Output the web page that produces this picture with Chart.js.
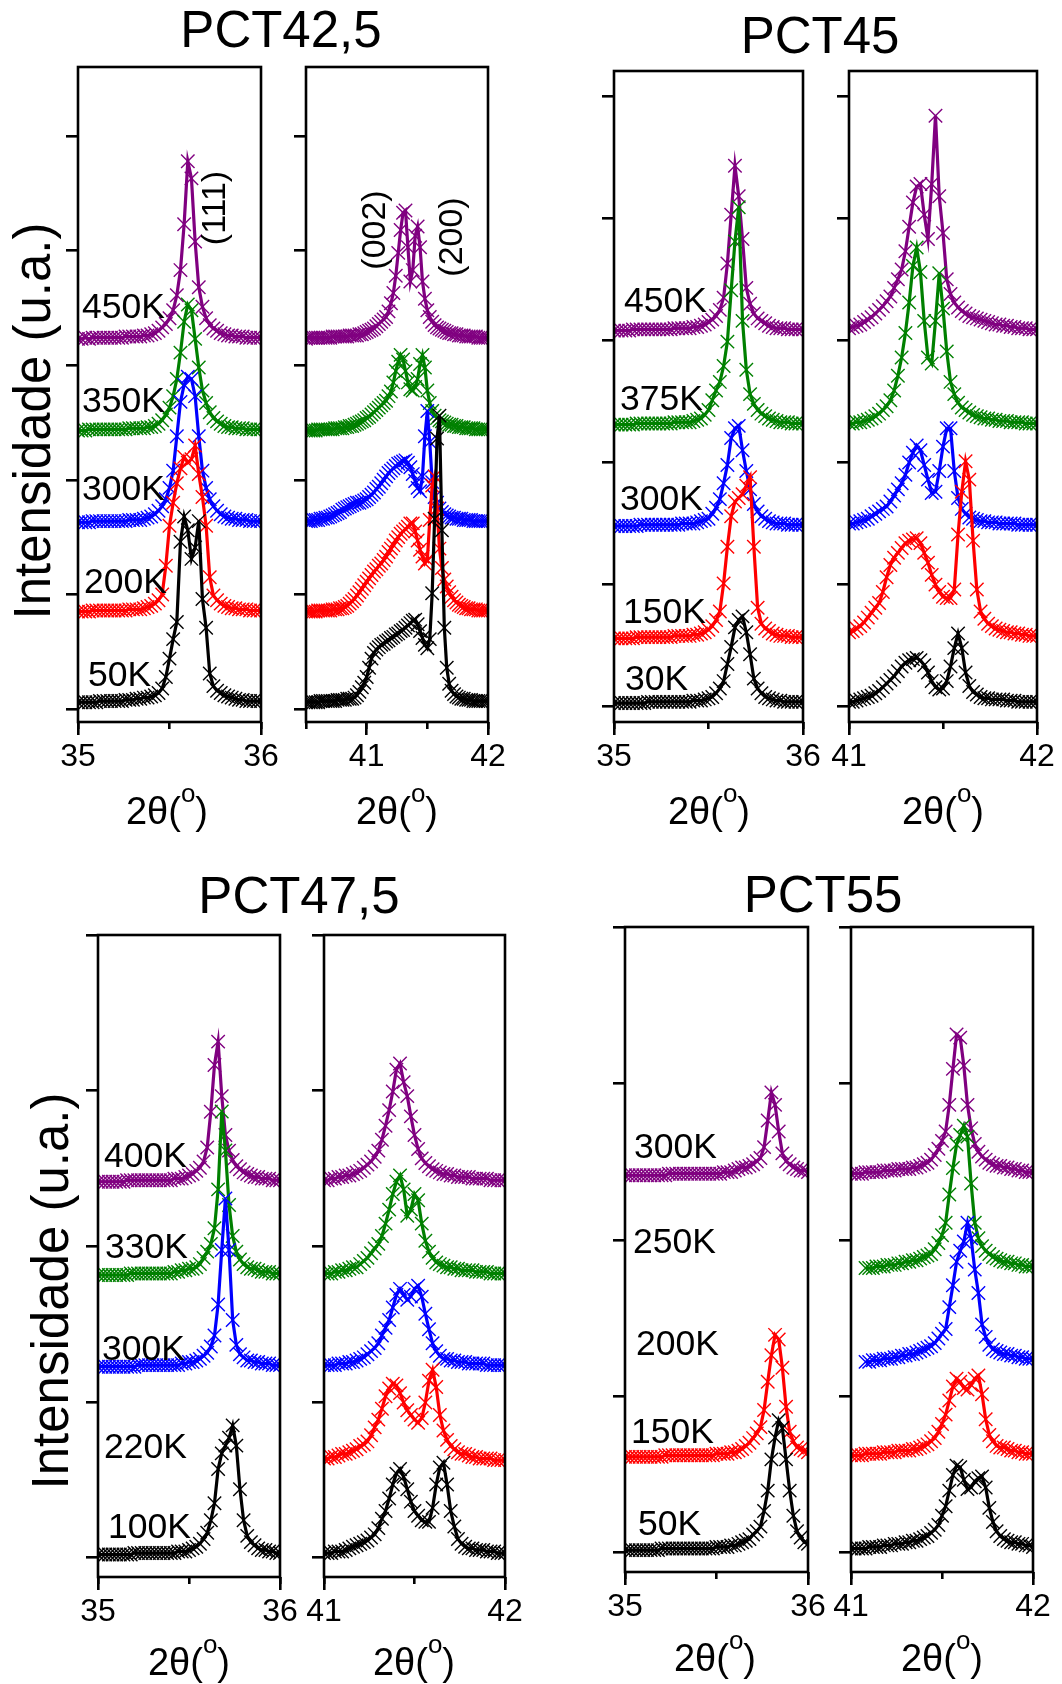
<!DOCTYPE html>
<html><head><meta charset="utf-8">
<script src="https://cdn.jsdelivr.net/npm/chart.js"></script>
<style>
html,body{margin:0;padding:0;background:#fff;}
#page{position:relative;width:1062px;height:1684px;overflow:hidden;background:#fff;}
#page canvas{position:absolute;}
#page svg{position:absolute;left:0;top:0;}
</style></head><body><div id="page"></div>
<script>
// ---------- x grids (2θ, degrees) ----------
const xLeft = [35,35.02,35.04,35.06,35.08,35.1,35.12,35.14,35.16,35.18,35.2,35.22,35.24,35.26,35.28,35.3,35.32,35.34,35.36,35.38,35.4,35.42,35.44,35.46,35.48,35.5,35.52,35.54,35.56,35.58,35.6,35.62,35.64,35.66,35.68,35.7,35.72,35.74,35.76,35.78,35.8,35.82,35.84,35.86,35.88,35.9,35.92,35.94,35.96,35.98,36];
const xRight425 = [40.5,40.52,40.54,40.56,40.58,40.6,40.62,40.64,40.66,40.68,40.7,40.72,40.74,40.76,40.78,40.8,40.82,40.84,40.86,40.88,40.9,40.92,40.94,40.96,40.98,41,41.02,41.04,41.06,41.08,41.1,41.12,41.14,41.16,41.18,41.2,41.22,41.24,41.26,41.28,41.3,41.32,41.34,41.36,41.38,41.4,41.42,41.44,41.46,41.48,41.5,41.52,41.54,41.56,41.58,41.6,41.62,41.64,41.66,41.68,41.7,41.72,41.74,41.76,41.78,41.8,41.82,41.84,41.86,41.88,41.9,41.92,41.94,41.96,41.98,42];
const xRight = [41,41.02,41.04,41.06,41.08,41.1,41.12,41.14,41.16,41.18,41.2,41.22,41.24,41.26,41.28,41.3,41.32,41.34,41.36,41.38,41.4,41.42,41.44,41.46,41.48,41.5,41.52,41.54,41.56,41.58,41.6,41.62,41.64,41.66,41.68,41.7,41.72,41.74,41.76,41.78,41.8,41.82,41.84,41.86,41.88,41.9,41.92,41.94,41.96,41.98,42];

// ---------- temperatures and stacking offsets ----------
const temps425 = ['450K','350K','300K','200K','50K'];
const temps45  = ['450K','375K','300K','150K','30K'];
const temps475 = ['400K','330K','300K','220K','100K'];
const temps55  = ['300K','250K','200K','150K','50K'];
const off425 = [3.23, 2.43, 1.63, 0.85, 0.06];
const off45  = [3.08, 2.31, 1.48, 0.56, 0.03];
const off475 = [2.415, 1.816, 1.227, 0.617, 0.02];
const off55  = [2.413, 1.81, 1.21, 0.613, 0.017];

// ---------- intensities (hundredths of a tick step, above each baseline) ----------
// PCT42,5  (111) window
const p425L_450K = [0,0,1,0,1,1,1,1,1,1, 1,1,1,2,2,2,2,2,3,3, 4,5,7,10,13,18,25,38,60,100, 155,140,85,45,28,18,12,9,7,5, 4,3,3,2,2,2,1,1,1,1, 1];
const p425L_350K = [0,0,0,1,1,1,1,1,1,1, 1,1,1,1,2,2,2,2,2,3, 3,4,6,9,14,20,30,45,68,95, 110,105,80,55,35,24,16,11,8,6, 4,3,3,2,2,2,1,1,1,1, 1];
const p425L_300K = [0,0,0,0,1,1,1,1,1,1, 1,1,1,1,2,2,2,2,3,4, 5,7,10,14,20,30,45,75,105,120, 127,125,110,75,45,30,20,14,10,7, 5,4,3,3,2,2,2,1,1,1, 1];
const p425L_200K = [0,0,0,0,1,1,1,1,1,1, 1,1,1,1,2,2,2,2,3,4, 5,7,10,15,40,75,95,112,125,135, 130,133,145,120,100,75,30,14,10,7, 5,4,3,3,2,2,2,1,1,1, 1];
const p425L_50K  = [0,0,0,0,0,0,1,1,1,1, 1,1,1,2,2,2,3,3,4,4, 5,6,8,12,22,38,55,70,140,162, 150,125,135,158,90,65,25,14,10,8, 6,5,4,3,2,2,1,1,1,1, 1];
// PCT42,5  (002)/(200) window
const p425R_450K = [0,1,1,1,1,1,1,1,1,1, 1,2,2,2,2,2,2,2,3,3, 3,3,4,4,5,6,7,8,9,11, 13,15,17,19,24,31,40,55,75,95, 110,112,80,50,60,90,98,80,50,35, 25,19,15,12,10,9,8,7,6,5, 5,4,4,3,3,3,2,2,2,2, 2,1,1,1,1,1];
const p425R_350K = [0,0,0,0,0,1,1,1,1,1, 1,1,2,2,2,2,3,3,4,4, 5,6,7,8,9,11,12,14,16,18, 20,22,24,26,30,34,42,52,60,66, 62,52,42,36,35,38,45,58,66,55, 35,24,17,13,11,9,8,7,6,5, 5,4,4,3,3,3,2,2,2,2, 1,1,1,1,1,1];
const p425R_300K = [1,1,1,2,2,2,3,3,4,4, 5,6,7,8,9,11,12,13,14,15, 16,17,17,18,19,20,22,24,26,29, 31,34,37,40,43,45,47,49,51,52, 53,54,52,48,42,36,30,27,40,75, 97,70,35,22,17,12,9,7,6,5, 4,4,3,3,3,2,2,2,2,1, 1,1,1,1,1,1];
const p425R_200K = [0,0,0,0,0,1,1,1,1,1, 1,2,2,2,3,3,4,5,7,9, 11,14,17,20,23,26,29,32,35,37, 40,42,45,48,52,55,58,62,65,68, 70,72,74,77,77,70,62,54,48,42, 45,80,110,118,90,55,38,28,22,17, 13,10,8,6,5,4,3,3,2,2, 2,1,1,1,1,1];
const p425R_50K  = [0,0,0,0,0,0,1,1,1,1, 1,1,1,2,2,2,2,3,3,3, 4,6,9,13,17,22,30,38,43,46, 48,50,51,53,54,56,57,59,60,62, 63,65,67,69,71,72,68,62,56,50, 47,55,95,160,230,250,150,65,30,16, 10,7,5,4,3,3,2,2,2,1, 1,1,1,1,1,1];
// PCT45
const p45L_450K = [0,0,0,0,0,1,1,1,1,1, 1,1,1,1,1,1,2,2,2,2, 2,3,3,4,5,7,9,12,17,27, 55,95,135,110,75,35,22,14,10,8, 6,4,3,2,2,2,1,1,1,1, 1];
const p45L_375K = [0,0,0,0,0,0,1,1,1,1, 1,1,1,1,1,1,2,2,2,2, 2,3,4,5,8,12,20,28,35,48, 68,110,150,178,85,45,25,17,12,9, 7,5,4,3,2,2,2,1,1,1, 1];
const p45L_300K = [0,0,0,0,0,0,0,1,1,1, 1,1,1,1,1,1,1,1,2,2, 2,2,3,4,5,6,10,15,22,35, 50,72,80,82,62,45,30,18,12,8, 6,4,3,2,2,2,1,1,1,1, 1];
const p45L_150K = [0,0,0,0,0,0,1,1,1,1, 1,1,1,1,1,1,2,2,2,2, 2,3,3,4,5,7,10,15,22,45, 75,100,112,115,118,125,132,75,25,12, 8,6,4,3,2,2,2,1,1,1, 1];
const p45L_30K  = [0,0,0,0,0,0,0,0,0,1, 1,1,1,1,1,1,1,1,1,1, 1,2,2,2,3,4,5,8,12,18, 32,46,62,68,71,58,40,20,12,8, 5,4,3,2,2,1,1,1,1,1, 1];
const p45R_450K = [2,3,4,5,7,9,11,14,17,20, 24,28,35,42,50,65,85,105,118,120, 95,75,120,176,110,80,42,30,23,19, 16,14,12,11,10,9,8,7,6,5, 5,4,4,3,3,2,2,2,1,1, 1];
const p45R_375K = [1,1,2,2,3,4,5,7,9,12, 15,20,28,40,55,75,100,130,145,125, 85,55,50,85,124,95,60,35,25,18, 14,12,10,8,7,6,5,5,4,4, 3,3,3,2,2,2,2,1,1,1, 1];
const p45R_300K = [2,2,3,4,5,6,8,10,12,14, 16,20,25,30,35,42,52,60,66,62, 50,38,27,28,45,65,80,80,45,23, 14,10,7,6,5,4,4,3,3,3, 2,2,2,2,2,1,1,1,1,1, 1];
const p45R_150K = [5,6,8,10,13,17,21,25,29,38, 50,60,66,70,74,78,80,81,82,78, 70,62,52,44,38,34,33,33,40,85, 120,145,130,80,40,22,16,12,10,8, 7,6,5,5,4,4,3,3,2,2, 2];
const p45R_30K  = [1,1,2,3,4,5,6,8,10,13, 16,19,22,26,30,33,35,36,37,35, 31,25,18,13,11,12,18,30,45,57, 45,25,14,9,7,5,4,4,3,3, 3,3,2,2,2,1,1,1,1,1, 1];
// PCT47,5
const p475L_400K = [0,0,0,0,0,0,0,0,1,1, 1,1,1,1,1,1,1,1,1,1, 1,2,2,2,3,4,5,7,9,13, 22,45,75,90,55,30,20,14,10,8, 6,5,4,3,3,2,2,2,1,1, 1];
const p475L_330K = [0,0,0,0,0,0,0,0,0,1, 1,1,1,1,1,1,1,1,1,1, 1,2,2,3,3,4,4,5,7,11, 15,20,30,55,105,80,45,25,15,10, 7,5,4,4,3,2,2,2,1,1, 1];
const p475L_300K = [0,0,0,0,0,0,0,0,0,0, 0,1,1,1,1,1,1,1,1,1, 1,1,1,2,2,3,3,4,5,7, 9,13,20,40,75,108,75,30,14,8, 6,4,4,3,3,2,2,2,1,1, 1];
const p475L_100K = [0,0,0,0,0,0,0,0,0,0, 1,1,1,1,1,1,1,1,1,1, 1,1,2,2,2,3,4,5,7,10, 14,22,33,55,65,70,75,83,70,42, 22,12,8,6,4,3,3,2,2,1, 1];
const p475R_400K = [1,1,2,2,3,3,4,4,5,6, 7,9,11,13,16,20,27,36,46,58, 72,76,64,55,42,30,21,15,12,10, 8,7,6,5,5,4,4,3,3,3, 3,2,2,2,2,2,1,1,1,1, 1];
const p475R_330K = [1,1,1,2,2,3,3,4,5,5, 7,9,11,14,17,20,25,33,42,52, 60,64,55,38,42,52,48,33,22,15, 11,8,7,6,5,5,4,4,3,3, 3,3,2,2,2,2,1,1,1,1, 1];
const p475R_300K = [1,1,1,1,2,2,2,3,3,4, 5,6,8,10,12,15,20,25,30,38, 46,50,46,43,45,50,52,45,34,24, 15,10,7,5,5,4,4,3,3,3, 2,2,2,2,2,1,1,1,1,1, 1];
const p475R_220K = [2,2,3,3,4,5,5,6,7,8, 10,11,13,17,22,27,34,42,47,50, 49,44,38,33,30,27,25,28,38,52, 59,48,30,20,14,10,8,6,5,5, 4,3,3,2,2,2,2,1,1,1, 1];
const p475R_100K = [1,1,1,2,2,2,3,4,5,6, 7,8,9,11,13,17,23,28,36,45, 52,55,50,42,34,28,25,22,21,21, 30,45,56,59,45,28,18,10,7,5, 4,4,3,3,3,2,2,2,1,1, 1];
// PCT55
const p55L_300K = [0,0,0,0,0,0,0,0,0,0, 0,0,1,1,1,1,1,1,1,1, 1,1,1,1,1,1,1,2,2,2, 3,4,5,5,6,7,9,11,18,35, 53,45,28,14,9,7,5,4,3,3, 2];
const p55L_150K = [0,0,0,0,0,0,0,0,0,0, 0,1,1,1,1,1,1,1,1,1, 1,1,1,1,1,2,2,2,2,3, 3,4,5,7,9,12,15,19,30,48, 65,78,75,57,32,16,10,6,5,4, 3];
const p55L_50K  = [0,0,0,0,0,0,0,0,0,0, 1,1,1,1,1,1,1,1,1,1, 1,1,1,1,1,2,2,2,2,3, 3,4,5,6,7,10,12,15,25,38, 58,72,83,78,58,38,22,12,8,5, 4];
const p55R_300K = [1,1,1,1,2,2,2,2,2,3, 3,3,3,4,4,4,4,5,5,6, 7,8,10,13,17,22,28,45,68,90, 88,70,45,30,20,15,12,10,8,7, 6,6,5,5,4,4,3,3,2,2, 2];
const p55R_250K = [null,null,null,null,1,1,1,2,2,2, 3,3,3,4,4,5,5,6,6,7, 8,9,10,13,17,22,30,48,65,80, 86,92,85,55,30,20,15,12,10,8, 7,6,5,5,4,4,3,3,2,2, 2];
const p55R_200K = [null,null,null,null,1,1,2,2,2,3, 3,3,4,4,5,5,6,6,7,8, 9,10,11,13,16,19,22,36,50,65, 72,78,90,80,60,45,25,17,12,9, 8,7,6,6,5,5,4,4,3,3, 3];
const p55R_150K = [1,1,1,1,2,2,2,2,2,3, 3,3,3,4,4,4,4,5,5,6, 7,8,10,12,16,21,27,36,45,50, 48,44,43,46,50,52,40,24,14,10, 7,6,6,5,4,4,3,3,2,2, 2];
const p55R_50K  = [1,1,1,1,1,2,2,2,2,3, 3,3,4,4,4,5,5,6,6,7, 8,9,11,13,16,22,28,38,48,54, 53,45,39,40,44,46,47,40,27,18, 12,9,7,6,5,5,4,4,3,3, 2];

// ---------- styling ----------
const COLORS = ['#800080', '#008000', '#0000ff', '#ff0000', '#000000'];
const FONT = "'Liberation Sans', Arial, Helvetica, sans-serif";
const page = document.getElementById('page');

const panels = [
  {L:78, R:261, T:67, B:722, xmin:35, xmax:36, ymin:-0.113, ymax:5.602, x:xLeft, offs:off425,
   series:[p425L_450K,p425L_350K,p425L_300K,p425L_200K,p425L_50K]},
  {L:306, R:488, T:67, B:722, xmin:40.5, xmax:42, ymin:-0.113, ymax:5.602, x:xRight425, offs:off425,
   series:[p425R_450K,p425R_350K,p425R_300K,p425R_200K,p425R_50K]},
  {L:614, R:803, T:71, B:722, xmin:35, xmax:36, ymin:-0.125, ymax:5.206, x:xLeft, offs:off45,
   series:[p45L_450K,p45L_375K,p45L_300K,p45L_150K,p45L_30K]},
  {L:849, R:1037, T:71, B:722, xmin:41, xmax:42, ymin:-0.125, ymax:5.206, x:xRight, offs:off45,
   series:[p45R_450K,p45R_375K,p45R_300K,p45R_150K,p45R_30K]},
  {L:98, R:280, T:935, B:1577, xmin:35, xmax:36, ymin:-0.124, ymax:4, x:xLeft, offs:off475,
   series:[p475L_400K,p475L_330K,p475L_300K,null,p475L_100K]},
  {L:324, R:505, T:935, B:1577, xmin:41, xmax:42, ymin:-0.124, ymax:4, x:xRight, offs:off475,
   series:[p475R_400K,p475R_330K,p475R_300K,p475R_220K,p475R_100K]},
  {L:625, R:808, T:927, B:1572, xmin:35, xmax:36, ymin:-0.123, ymax:4, x:xLeft, offs:off55,
   series:[p55L_300K,null,null,p55L_150K,p55L_50K]},
  {L:851, R:1033, T:927, B:1572, xmin:41, xmax:42, ymin:-0.123, ymax:4, x:xRight, offs:off55,
   series:[p55R_300K,p55R_250K,p55R_200K,p55R_150K,p55R_50K]}
];

const framePlugin = {
  id: 'frame',
  afterDatasetsDraw(chart) {
    const a = chart.chartArea, ctx = chart.ctx;
    ctx.save();
    ctx.strokeStyle = '#000';
    ctx.lineWidth = 2.6;
    ctx.strokeRect(a.left, a.top, a.right - a.left, a.bottom - a.top);
    ctx.restore();
  }
};

function makePanel(p) {
  const padL = 24, padR = 32, padT = 12, axisH = 70;
  const w = (p.R - p.L) + padL + padR;
  const h = (p.B - p.T) + padT + axisH;
  const c = document.createElement('canvas');
  c.width = w; c.height = h;
  c.style.width = w + 'px'; c.style.height = h + 'px';
  c.style.left = (p.L - padL) + 'px'; c.style.top = (p.T - padT) + 'px';
  page.appendChild(c);
  const datasets = [];
  for (let k = p.series.length - 1; k >= 0; k--) {
    const vals = p.series[k];
    if (!vals) continue;
    const pts = vals.map((v, i) => ({x: p.x[i], y: v === null ? null : p.offs[k] + v / 100}));
    datasets.push({
      data: pts, borderColor: COLORS[k], backgroundColor: COLORS[k],
      borderWidth: 3.2, tension: 0, spanGaps: false,
      pointStyle: 'crossRot', pointRadius: 9.5, pointBorderWidth: 1.4,
      pointBorderColor: COLORS[k], pointBackgroundColor: COLORS[k]
    });
  }
  new Chart(c, {
    type: 'line',
    data: {datasets},
    options: {
      responsive: false, animation: false, devicePixelRatio: 1,
      layout: {padding: {left: 0, right: padR, top: padT, bottom: 0}},
      plugins: {legend: {display: false}, tooltip: {enabled: false}},
      scales: {
        x: {
          type: 'linear', position: 'bottom', min: p.xmin, max: p.xmax,
          border: {display: false},
          grid: {drawOnChartArea: false, drawTicks: true, tickLength: 13, lineWidth: 2.6, tickWidth: 2.6, tickColor: '#000'},
          ticks: {stepSize: 1, includeBounds: false, autoSkip: false, maxRotation: 0, padding: 2.5,
                  color: '#000', font: {family: FONT, size: 32}, callback: v => String(v)},
          afterFit: s => { s.height = axisH; }
        },
        xm: {
          axis: 'x', type: 'linear', position: {y: p.ymin}, min: p.xmin, max: p.xmax,
          border: {display: false},
          grid: {drawOnChartArea: false, drawTicks: true, tickLength: 7, lineWidth: 2.6, tickWidth: 2.6, tickColor: '#000'},
          ticks: {stepSize: 0.5, includeBounds: false, display: false}
        },
        y: {
          type: 'linear', position: 'left', min: p.ymin, max: p.ymax,
          border: {display: false},
          grid: {drawOnChartArea: false, drawTicks: true, tickLength: 12, lineWidth: 2.6, tickWidth: 2.6, tickColor: '#000'},
          ticks: {stepSize: 1, includeBounds: false, display: false},
          afterFit: s => { s.width = padL; }
        }
      }
    },
    plugins: [framePlugin]
  });
}
panels.forEach(makePanel);

// ---------- text ----------
const svgParts = [];
function text(x, y, s, size, anchor) {
  svgParts.push(`<text x="${x}" y="${y}" font-size="${size}" text-anchor="${anchor || 'start'}">${s}</text>`);
}
function vtext(x, y, s, size) {
  svgParts.push(`<text transform="translate(${x},${y}) rotate(-90)" font-size="${size}" text-anchor="middle">${s}</text>`);
}
function xtitle(cx, base) {
  svgParts.push(`<text x="${cx}" y="${base}" font-size="38" text-anchor="middle">2θ(<tspan font-size="26" dy="-22">o</tspan><tspan dy="22">)</tspan></text>`);
}
// titles
text(281, 47, 'PCT42,5', 51, 'middle');
text(820, 53, 'PCT45', 51, 'middle');
text(299, 913, 'PCT47,5', 51, 'middle');
text(823, 912, 'PCT55', 51, 'middle');
// y labels
vtext(50, 421, 'Intensidade (u.a.)', 51);
vtext(68, 1291, 'Intensidade (u.a.)', 51);
// temperature labels
const tpos425 = [[82,318],[82,412],[82,500],[84,593],[88,686]];
const tpos45  = [[624,312],[620,410],[620,510],[623,623],[625,690]];
const tpos475 = [[104,1167],[105,1258],[102,1360],[104,1458],[108,1538]];
const tpos55  = [[634,1158],[633,1253],[636,1355],[631,1443],[638,1535]];
[[temps425,tpos425],[temps45,tpos45],[temps475,tpos475],[temps55,tpos55]].forEach(([ts, ps]) => {
  ts.forEach((t, i) => text(ps[i][0], ps[i][1], t, 35.5));
});
// reflections
vtext(225, 208, '(111)', 34);
vtext(385, 230, '(002)', 34);
vtext(462, 237, '(200)', 34);
// x-axis titles
xtitle(167, 824); xtitle(397, 824);
xtitle(709, 824); xtitle(943, 824);
xtitle(189, 1675); xtitle(414, 1675);
xtitle(715, 1671); xtitle(942, 1671);

page.insertAdjacentHTML('beforeend',
  `<svg width="1062" height="1684" xmlns="http://www.w3.org/2000/svg" font-family="${FONT.replace(/"/g,'')}" fill="#000">${svgParts.join('')}</svg>`);
</script>
</body></html>
